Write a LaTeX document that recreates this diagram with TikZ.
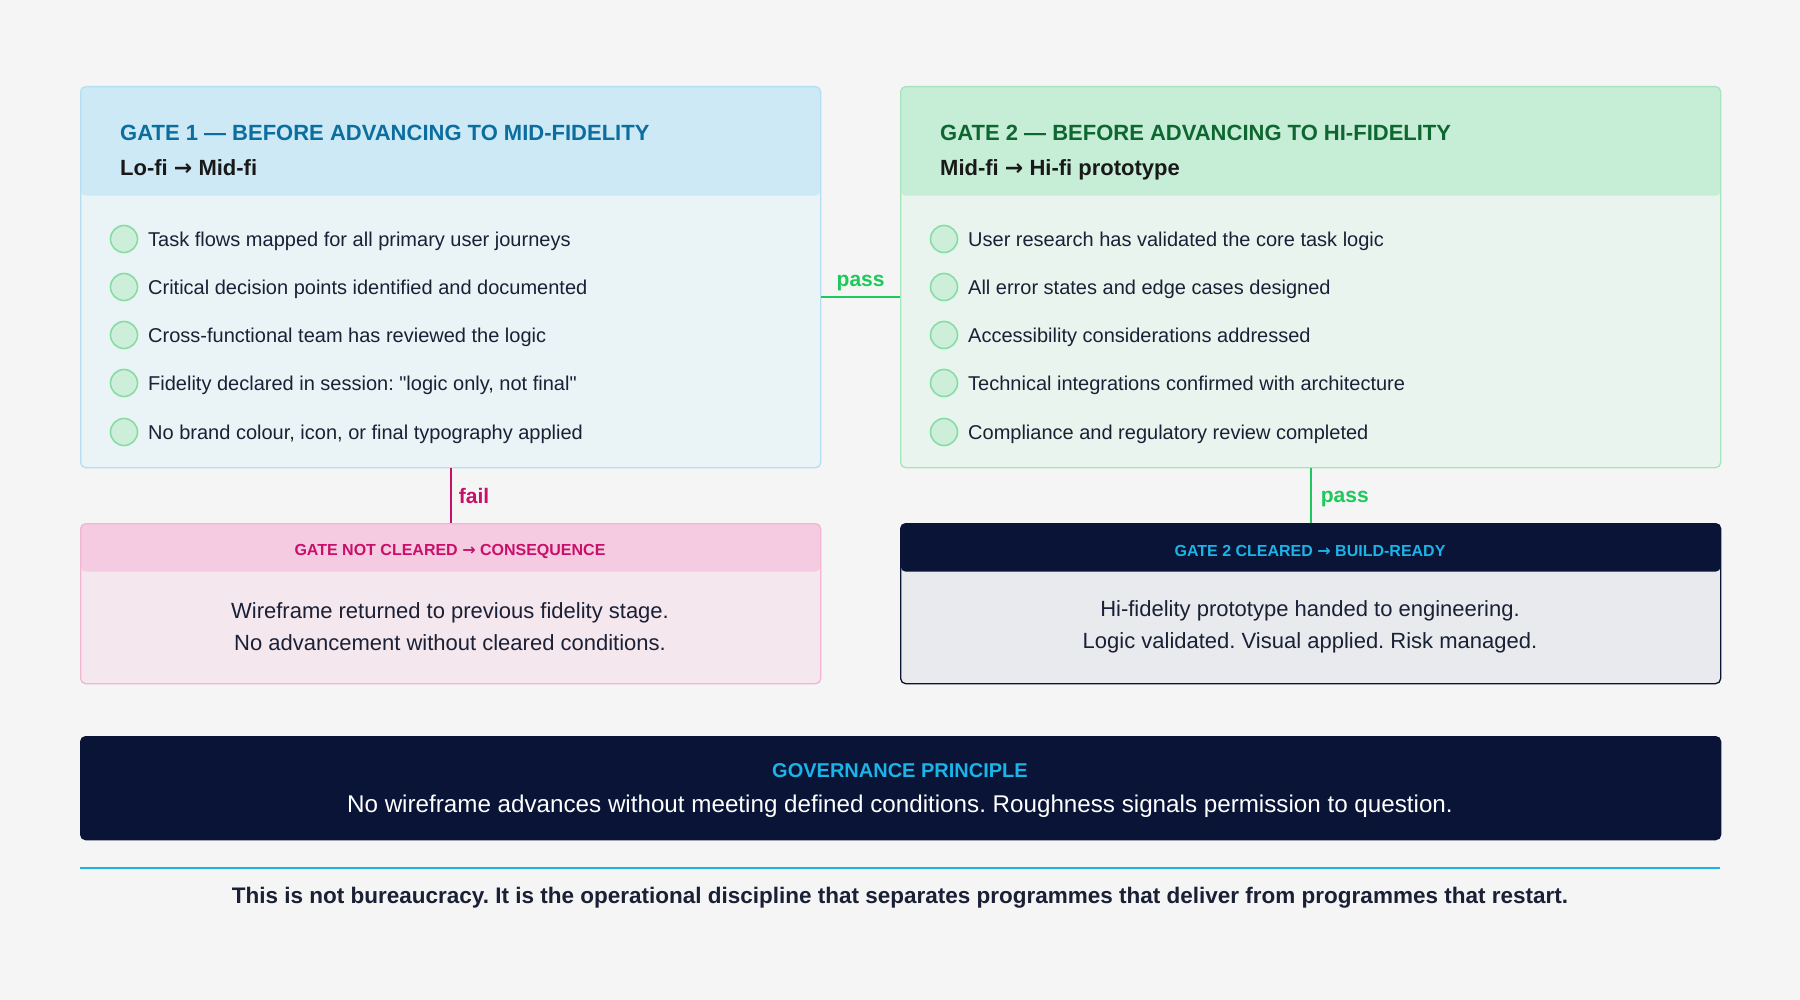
\documentclass[tikz,border=0pt]{standalone}
\usepackage{fontspec}
\setmainfont{Liberation Sans}[Ligatures=TeXOff]
\newfontfamily\arrowfont{DejaVu Sans}
\newcommand{\arr}{{\arrowfont →}}
\frenchspacing
\definecolor{bg}{HTML}{F5F5F5}
\definecolor{gAhead}{HTML}{CDE9F5}
\definecolor{gAbody}{HTML}{EAF3F6}
\definecolor{gAborder}{HTML}{B5DEF2}
\definecolor{gAtitle}{HTML}{0B6E9E}
\definecolor{gBhead}{HTML}{C6EDD6}
\definecolor{gBbody}{HTML}{EAF4EE}
\definecolor{gBborder}{HTML}{A6E4BE}
\definecolor{gBtitle}{HTML}{0E6630}
\definecolor{chkfill}{HTML}{CDEFD9}
\definecolor{chkdraw}{HTML}{86DDA4}
\definecolor{itemtxt}{HTML}{1A2035}
\definecolor{passc}{HTML}{1DC95A}
\definecolor{failc}{HTML}{C8106B}
\definecolor{fhead}{HTML}{F5CBE1}
\definecolor{fbody}{HTML}{F5E7EE}
\definecolor{fborder}{HTML}{F0B6D2}
\definecolor{navy}{HTML}{0A1437}
\definecolor{bbody}{HTML}{E8EAED}
\definecolor{cyanc}{HTML}{1AB4E8}
\tikzset{
  panel/.style={anchor=north west, rounded corners=5pt, line width=1.3pt, inner sep=0pt},
  headband/.style 2 args={path picture={\fill[#1] (path picture bounding box.north west) rectangle ([yshift=-#2]path picture bounding box.north east);}},
  chk/.style={circle, fill=chkfill, draw=chkdraw, line width=1.6pt, minimum size=27pt, inner sep=0pt},
  itemtext/.style={anchor=west, inner sep=0pt, font=\fontsize{20}{23}\selectfont, text=itemtxt},
  gtitle/.style={anchor=base west, inner sep=0pt, font=\fontsize{22}{26}\selectfont\bfseries},
  gsub/.style={anchor=base west, inner sep=0pt, font=\fontsize{22}{26}\selectfont\bfseries, text=black!90},
  smallhead/.style={inner sep=0pt, font=\fontsize{16}{19}\selectfont\bfseries},
  bodytext/.style={inner sep=0pt, align=center, font=\fontsize{22}{32}\selectfont, text=itemtxt},
  conn/.style={line width=2.2pt},
  connlabel/.style={inner sep=0pt, font=\fontsize{21}{25}\selectfont\bfseries},
}
\begin{document}
\begin{tikzpicture}[x=1pt,y=-1pt]
\fill[bg] (0,0) rectangle (1800,1000);
\useasboundingbox (0,0) rectangle (1800,1000);

% Gate 1
\node[panel, fill=gAbody, draw=gAborder, headband={gAhead}{109pt}, minimum width=740pt, minimum height=381pt] (g1) at (80,86) {};
\node[gtitle, text=gAtitle] (g1t) at (120,141) {GATE 1 — BEFORE ADVANCING TO MID-FIDELITY};
\node[gsub] (g1s) at (120,176) {Lo-fi \arr{} Mid-fi};
\foreach \i/\y/\t in {1/239/Task flows mapped for all primary user journeys,
                      2/287/Critical decision points identified and documented,
                      3/335/Cross-functional team has reviewed the logic,
                      4/383/{Fidelity declared in session: "logic only, not final"},
                      5/432/{No brand colour, icon, or final typography applied}}{
  \node[chk] (a\i) at (124,\y) {};
  \node[itemtext] (at\i) at (148,\y+2.5) {\t};
}

% Gate 2
\node[panel, fill=gBbody, draw=gBborder, headband={gBhead}{109pt}, minimum width=820pt, minimum height=381pt] (g2) at (900,86) {};
\node[gtitle, text=gBtitle] (g2t) at (940,141) {GATE 2 — BEFORE ADVANCING TO HI-FIDELITY};
\node[gsub] (g2s) at (940,176) {Mid-fi \arr{} Hi-fi prototype};
\foreach \i/\y/\t in {1/239/User research has validated the core task logic,
                      2/287/All error states and edge cases designed,
                      3/335/Accessibility considerations addressed,
                      4/383/Technical integrations confirmed with architecture,
                      5/432/Compliance and regulatory review completed}{
  \node[chk] (b\i) at (944,\y) {};
  \node[itemtext] (bt\i) at (968,\y+2.5) {\t};
}

% Fail box
\node[panel, fill=fbody, draw=fborder, headband={fhead}{48pt}, minimum width=740pt, minimum height=160pt] (fb) at (80,523) {};
\node[smallhead, text=failc] (fbh) at (450,551) {GATE NOT CLEARED \arr{} CONSEQUENCE};
\node[bodytext] (fbt) at (450,627) {Wireframe returned to previous fidelity stage.\\No advancement without cleared conditions.};

% Build box
\node[panel, fill=bbody, draw=navy, headband={navy}{48pt}, minimum width=820pt, minimum height=160pt] (bb) at (900,523) {};
\node[smallhead, text=cyanc] (bbh) at (1310,551) {GATE 2 CLEARED \arr{} BUILD-READY};
\node[bodytext] (bbt) at (1310,627) {Hi-fidelity prototype handed to engineering.\\Logic validated. Visual applied. Risk managed.};

% Connectors
\draw[conn, passc] ([yshift=-20pt]g1.east) -- ([yshift=-20pt]g2.west) coordinate[midway] (pm);
\node[connlabel, text=passc, anchor=south] (pl1) at ([yshift=6pt]pm) {pass};
\draw[conn, failc] (g1.south) -- (fb.north) coordinate[midway] (fm);
\node[connlabel, text=failc, anchor=west] (fl) at ([xshift=8pt]fm) {fail};
\draw[conn, passc] (g2.south) -- (bb.north) coordinate[midway] (pm2);
\node[connlabel, text=passc, anchor=west] (pl2) at ([xshift=10pt,yshift=-3pt]pm2) {pass};

% Governance
\node[panel, fill=navy, draw=navy, minimum width=1640pt, minimum height=103pt] (gov) at (80,736) {};
\node[inner sep=0pt, font=\fontsize{20}{24}\selectfont\bfseries, text=cyanc] (govt) at (900,771) {GOVERNANCE PRINCIPLE};
\node[inner sep=0pt, font=\fontsize{24.2}{29}\selectfont, text=white] (govb) at (900,806) {No wireframe advances without meeting defined conditions. Roughness signals permission to question.};

% Rule and closing line
\coordinate (rl) at (80,868);
\coordinate (rr) at (1720,868);
\draw[cyanc, line width=2.2pt] (rl) -- (rr);
\node[inner sep=0pt, font=\fontsize{22.5}{27}\selectfont\bfseries, text=itemtxt] (closing) at (900,898) {This is not bureaucracy. It is the operational discipline that separates programmes that deliver from programmes that restart.};
\end{tikzpicture}
\end{document}
